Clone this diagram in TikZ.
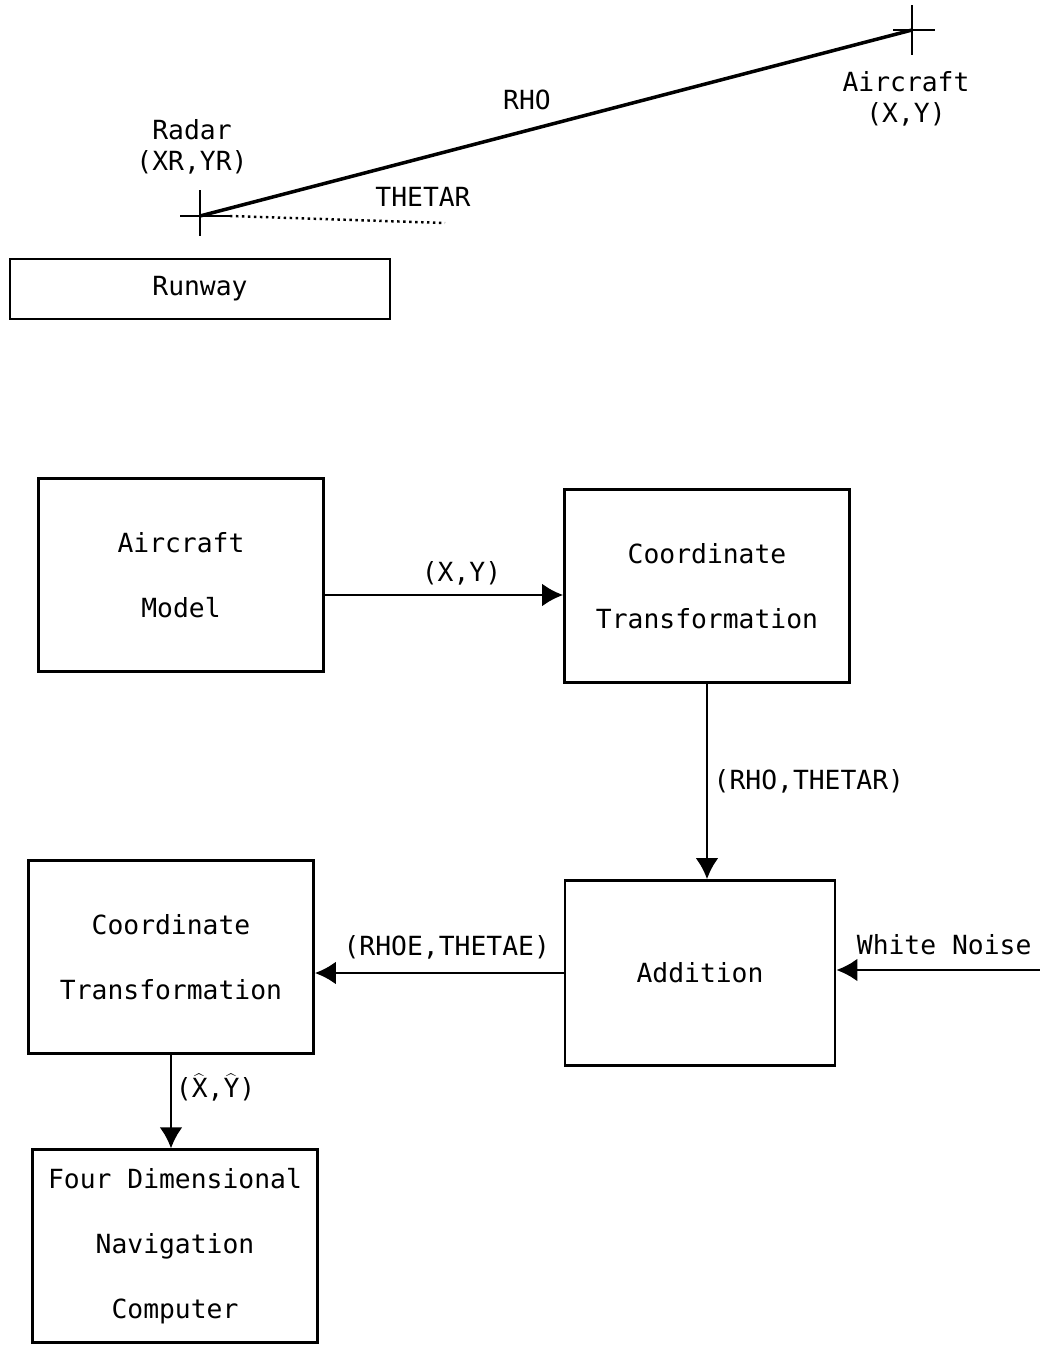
\documentclass[tikz,border=0pt]{standalone}
\usepackage{fontspec}
\setmonofont{DejaVu Sans Mono}
\usepackage{tikz}
\usetikzlibrary{arrows.meta, positioning}

\begin{document}
\begin{tikzpicture}[
    x=0.02cm, y=-0.02cm,
    block/.style={draw, line width=1.5pt, minimum width=5.7cm, minimum height=3.85cm, align=center, inner sep=0pt, font=\ttfamily\fontsize{15}{37}\selectfont},
    lbl/.style={font=\ttfamily\fontsize{15}{18}\selectfont, inner sep=2pt},
    arrow/.style={-{Latex[length=12pt, width=13pt]}, line width=1.6pt},
    crosshair/.style={line width=1.6pt},
]
\useasboundingbox (0,0) rectangle (1040,1352);

% geometry sketch
\coordinate (radar) at (200,216);
\coordinate (plane) at (912,30);
\coordinate (thetaend) at (445,223);
\draw[crosshair] ([yshift=-0.4cm]radar) -- ([yshift=0.52cm]radar);
\draw[crosshair] ([xshift=-0.4cm]radar) -- ([xshift=0.6cm]radar);
\draw[crosshair] ([yshift=-0.5cm]plane) -- ([yshift=0.5cm]plane);
\draw[crosshair] ([xshift=-0.38cm]plane) -- ([xshift=0.46cm]plane);
\draw[line width=2pt] (radar) -- (plane);
\draw[line width=1.4pt, dotted] ([xshift=0.6cm]radar) -- (thetaend);
\node[lbl, align=center] (radarlbl) at (192,147) {Radar\\(XR,YR)};
\node[lbl, align=center] (planelbl) at (906,99) {Aircraft\\(X,Y)};
\node[lbl] (rholbl) at (527,100) {RHO};
\node[lbl] (thetalbl) at (423,197) {THETAR};
\node[draw, line width=1.5pt, minimum width=7.6cm, minimum height=1.2cm, font=\ttfamily\fontsize{15}{18}\selectfont] (runway) at (200,289) {Runway};

% block diagram
\node[block] (model) at (181,575) {Aircraft\\Model};
\node[block] (trans1) at (707,586) {Coordinate\\Transformation};
\node[block, minimum width=5.4cm, minimum height=3.7cm] (add) at (700,973) {Addition};
\node[block] (trans2) at (171,957) {Coordinate\\Transformation};
\node[block] (nav) at (175,1246) {Four Dimensional\\Navigation\\Computer};
\coordinate (xyout) at ([yshift=-0.4cm]model.east);
\coordinate (noise) at (1040,970);

\draw[arrow] (xyout) -- node[lbl, above=3pt, xshift=0.35cm] {(X,Y)} (xyout -| trans1.west);
\draw[arrow] (trans1.south) -- node[lbl, right=1pt] {(RHO,THETAR)} (trans1.south |- add.north);
\draw[arrow] (add.west) -- node[lbl, above=5pt, xshift=0.15cm] {(RHOE,THETAE)} (add.west -| trans2.east);
\draw[arrow] (noise) -- node[lbl, above=6pt, xshift=0.12cm] {White Noise} (noise -| add.east);
\draw[arrow] (trans2.south) -- node[lbl, right, pos=0.35] {($\widehat{\mathtt{X}}$,$\widehat{\mathtt{Y}}$)} (trans2.south |- nav.north);
\end{tikzpicture}
\end{document}
